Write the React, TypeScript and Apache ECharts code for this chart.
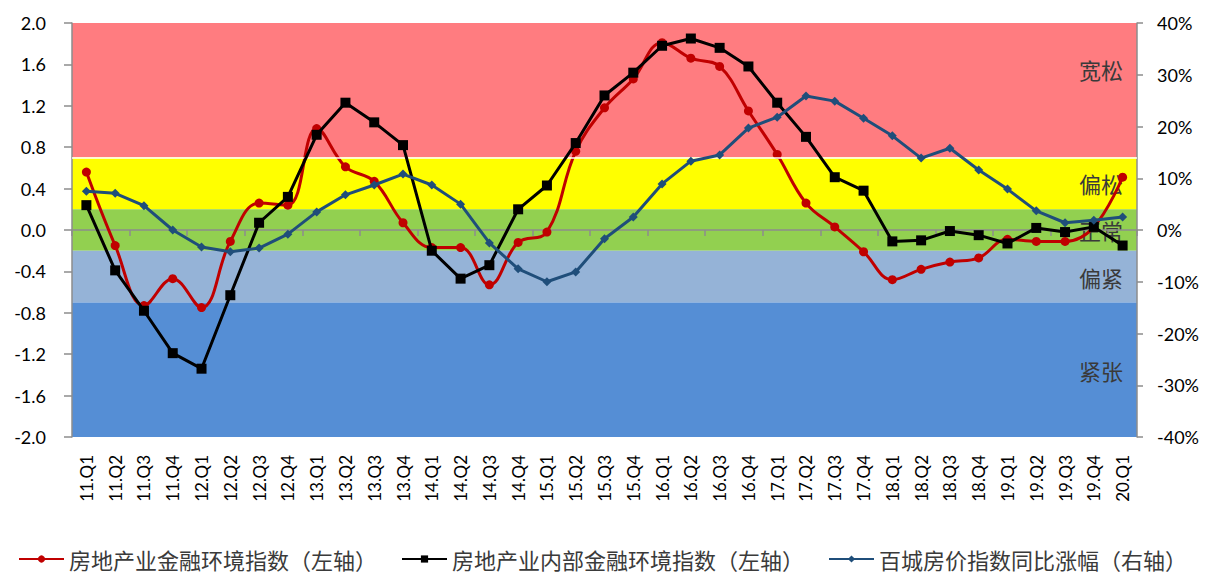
import React, { useEffect, useRef } from "react";
import * as echarts from "echarts";

const categories = [
  "11.Q1","11.Q2","11.Q3","11.Q4","12.Q1","12.Q2","12.Q3","12.Q4",
  "13.Q1","13.Q2","13.Q3","13.Q4","14.Q1","14.Q2","14.Q3","14.Q4",
  "15.Q1","15.Q2","15.Q3","15.Q4","16.Q1","16.Q2","16.Q3","16.Q4",
  "17.Q1","17.Q2","17.Q3","17.Q4","18.Q1","18.Q2","18.Q3","18.Q4",
  "19.Q1","19.Q2","19.Q3","19.Q4","20.Q1",
];

const financeIndex = [
  0.56, -0.15, -0.73, -0.47, -0.75, -0.11, 0.26, 0.24,
  0.98, 0.61, 0.47, 0.07, -0.17, -0.17, -0.53, -0.12,
  -0.02, 0.76, 1.18, 1.46, 1.81, 1.66, 1.58, 1.15,
  0.73, 0.26, 0.03, -0.21, -0.48, -0.38, -0.31, -0.27,
  -0.09, -0.11, -0.11, 0.03, 0.51,
];

const internalIndex = [
  0.24, -0.39, -0.78, -1.19, -1.34, -0.63, 0.07, 0.32,
  0.92, 1.23, 1.04, 0.82, -0.2, -0.47, -0.34, 0.2,
  0.43, 0.84, 1.3, 1.52, 1.78, 1.85, 1.76, 1.58,
  1.23, 0.9, 0.51, 0.38, -0.11, -0.1, -0.01, -0.05,
  -0.13, 0.02, -0.02, 0.03, -0.15,
];

const housePriceYoY = [
  7.5, 7.1, 4.7, 0.0, -3.3, -4.2, -3.5, -0.8,
  3.5, 6.8, 8.7, 10.8, 8.7, 5.0, -2.5, -7.5,
  -10.0, -8.1, -1.7, 2.5, 8.9, 13.3, 14.5, 19.7,
  21.8, 25.9, 24.9, 21.6, 18.2, 13.9, 15.8, 11.6,
  7.9, 3.7, 1.4, 1.9, 2.5,
];

const bands = [
  { name: "宽松", from: 0.7, to: 2.0, color: "#FF7C80" },
  { name: "偏松", from: 0.2, to: 0.7, color: "#FFFF00" },
  { name: "正常", from: -0.2, to: 0.2, color: "#92D050" },
  { name: "偏紧", from: -0.7, to: -0.2, color: "#95B3D7" },
  { name: "紧张", from: -2.0, to: -0.7, color: "#558ED5" },
];

const seriesNames = [
  "房地产业金融环境指数（左轴）",
  "房地产业内部金融环境指数（左轴）",
  "百城房价指数同比涨幅（右轴）",
];

const numFont = "Lato";
const cjkFont = "Noto Sans CJK SC";

export default function App() {
  const ref = useRef<HTMLDivElement>(null);
  useEffect(() => {
    document.body.style.margin = "0";
    const chart = echarts.init(ref.current!, null, { renderer: "svg" });
    chart.setOption({
      animation: false,
      grid: { left: 72, right: 68, top: 23, bottom: 137, containLabel: false },
      legend: {
        bottom: 4,
        left: 18,
        padding: 0,
        itemWidth: 45,
        itemHeight: 9,
        itemGap: 24,
        textStyle: { fontFamily: cjkFont, fontSize: 22, color: "#3a3a3a" },
        data: seriesNames,
      },
      xAxis: [
        {
          type: "category",
          data: categories,
          position: "bottom",
          axisLine: { show: false, onZero: false },
          axisTick: { show: false },
          axisLabel: {
            rotate: 90,
            margin: 18,
            fontSize: 17,
            fontFamily: numFont,
            color: "#000",
            interval: 0,
          },
        },
        {
          type: "category",
          data: categories,
          position: "bottom",
          z: 3,
          axisLine: { show: true, onZero: true, lineStyle: { color: "#8C8C8C", width: 1.5 } },
          axisTick: { show: true, length: 6, lineStyle: { color: "#8C8C8C", width: 1.5 } },
          axisLabel: { show: false },
        },
      ],
      yAxis: [
        {
          type: "value",
          min: -2.0,
          max: 2.0,
          interval: 0.4,
          z: 3,
          axisLine: { show: true, lineStyle: { color: "#8C8C8C", width: 1.5 } },
          axisTick: { show: true, length: 8, lineStyle: { color: "#8C8C8C", width: 1.5 } },
          splitLine: { show: false },
          axisLabel: {
            margin: 26,
            fontSize: 18,
            fontFamily: numFont,
            color: "#000",
            formatter: (v: number) => v.toFixed(1),
          },
        },
        {
          type: "value",
          min: -40,
          max: 40,
          interval: 10,
          position: "right",
          z: 3,
          axisLine: { show: true, lineStyle: { color: "#8C8C8C", width: 1.5 } },
          axisTick: { show: true, length: 6, lineStyle: { color: "#8C8C8C", width: 1.5 } },
          splitLine: { show: false },
          axisLabel: {
            margin: 20,
            fontSize: 18,
            fontFamily: numFont,
            color: "#000",
            formatter: "{value}%",
          },
        },
      ],
      series: [
        {
          type: "line",
          name: "bands",
          data: [],
          z: 1,
          silent: true,
          markArea: {
            silent: true,
            data: bands.map((b, i) => [
              {
                yAxis: b.from,
                itemStyle: { color: b.color, opacity: 1 },
                label: {
                  show: true,
                  position: "insideRight",
                  formatter: b.name,
                  fontFamily: cjkFont,
                  fontSize: 22,
                  color: "#3a3a3a",
                  offset: i === 0 ? [-9, -21] : [-9, 0],
                },
              },
              { yAxis: b.to },
            ]),
          },
          markLine: {
            silent: true,
            symbol: "none",
            label: { show: false },
            lineStyle: { color: "#ffffff", width: 1.5, type: "solid" },
            data: [{ yAxis: 0.7 }],
          },
        },
        {
          type: "line",
          name: seriesNames[0],
          data: financeIndex,
          smooth: 0.4,
          z: 4,
          symbol: "circle",
          symbolSize: 9,
          lineStyle: { color: "#C00000", width: 3 },
          itemStyle: { color: "#C00000" },
        },
        {
          type: "line",
          name: seriesNames[1],
          data: internalIndex,
          z: 5,
          symbol: "rect",
          symbolSize: 10,
          lineStyle: { color: "#000000", width: 3 },
          itemStyle: { color: "#000000" },
        },
        {
          type: "line",
          name: seriesNames[2],
          data: housePriceYoY,
          yAxisIndex: 1,
          z: 6,
          symbol: "diamond",
          symbolSize: 9,
          lineStyle: { color: "#1F4E7A", width: 3 },
          itemStyle: { color: "#1F4E7A" },
        },
      ],
    });
    return () => chart.dispose();
  }, []);
  return <div ref={ref} style={{ width: 1205, height: 574, position: "absolute", left: 0, top: 0 }} />;
}
